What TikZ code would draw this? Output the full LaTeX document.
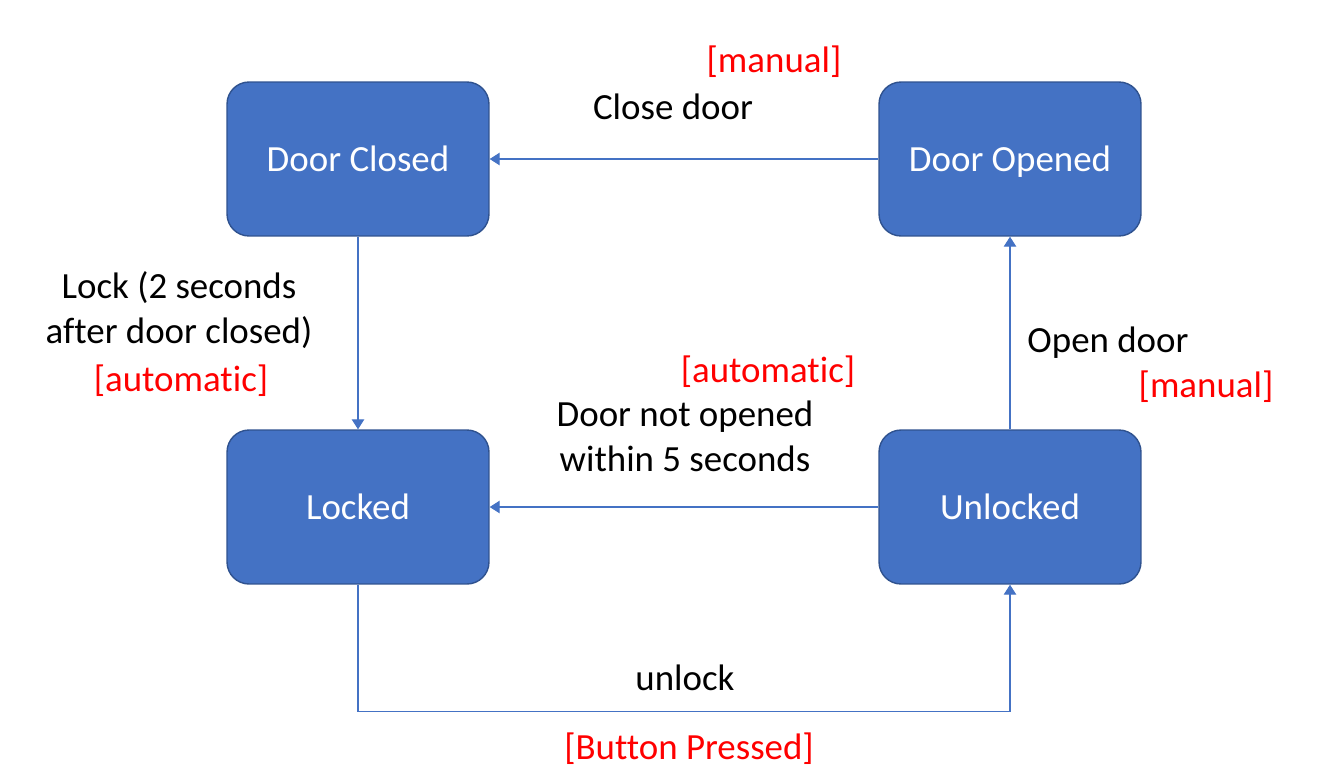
\documentclass[tikz,border=0pt]{standalone}
\usepackage{fontspec}
\setmainfont{Carlito}[Ligatures=NoCommon]
\usetikzlibrary{arrows.meta}
\definecolor{statefill}{HTML}{4472C4}
\definecolor{stateline}{HTML}{2F528F}
\definecolor{guardred}{HTML}{FF0000}
\begin{document}
\begin{tikzpicture}[x=0.02cm, y=-0.02cm,
  font=\fontsize{21}{25.5}\selectfont,
  statebox/.style={rectangle, rounded corners=0.44cm, fill=statefill, draw=stateline, line width=0.8pt,
    minimum width=5.24cm, minimum height=3.08cm, text=white, text height=14.5pt, text depth=0pt},
  trans/.style={draw=statefill, line width=0.6pt, -{Triangle[length=0.2cm, width=0.25cm]}},
  guard/.style={text=guardred},
  evt/.style={align=center}]
\useasboundingbox (0,0) rectangle (1318,782);
% states
\node[statebox] (closed) at (358,159) {Door Closed};
\node[statebox] (opened) at (1010,159) {Door Opened};
\node[statebox] (locked) at (358,507) {Locked};
\node[statebox] (unlocked) at (1010,507) {Unlocked};
% transitions
\draw[trans] (opened) -- (closed);
\draw[trans] (closed) -- (locked);
\draw[trans] (unlocked) -- (locked);
\draw[trans] (unlocked) -- (opened);
\draw[trans] (locked.south) -- ++(0,127) -| (unlocked.south);
% labels
\node[guard] (g1) at (774,62) {[manual]};
\node[evt] (e1) at (673,107) {Close door};
\node[evt] (e2) at (179,310) {Lock (2 seconds\\after door closed)};
\node[guard] (g2) at (181,381) {[automatic]};
\node[guard] (g3) at (768,372) {[automatic]};
\node[evt] (e3) at (685,436) {Door not opened\\within 5 seconds};
\node[evt] (e4) at (1108,343) {Open door};
\node[guard] (g4) at (1206,387) {[manual]};
\node[evt] (e5) at (685,678) {unlock};
\node[guard] (g5) at (689,749) {[Button Pressed]};
\end{tikzpicture}
\end{document}
